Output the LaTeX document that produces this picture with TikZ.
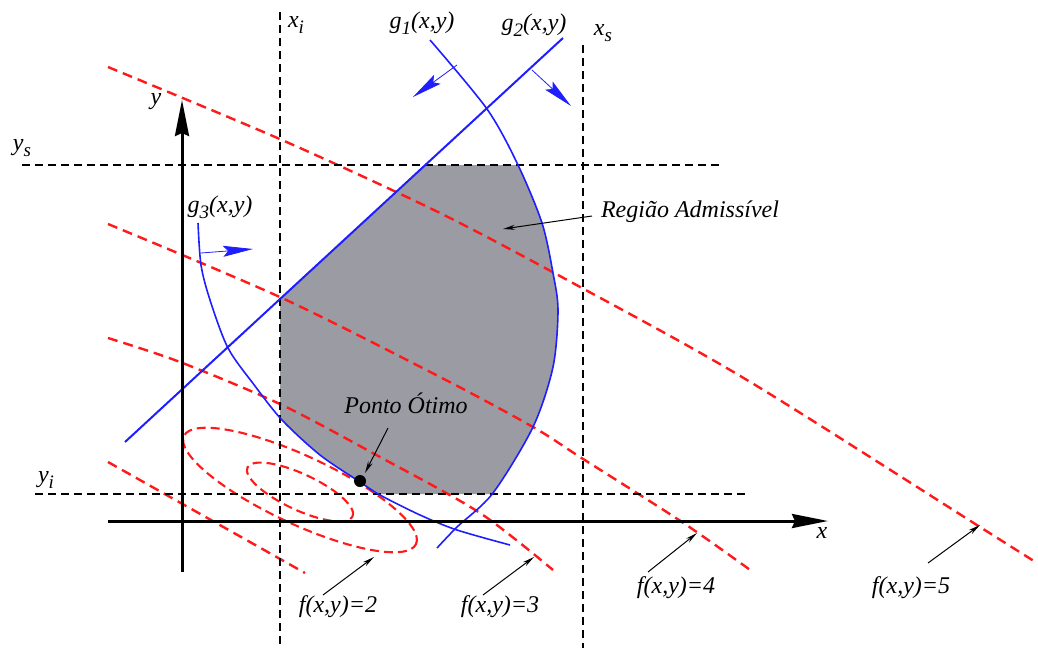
\documentclass[tikz,border=0pt]{standalone}
\usepackage{fontspec}
\setmainfont{Liberation Serif}
\usetikzlibrary{arrows.meta}
\definecolor{regfill}{RGB}{155,155,163}
\definecolor{bl}{RGB}{30,30,255}
\definecolor{rd}{RGB}{255,25,25}
\newcommand\mysub[1]{\raisebox{-0.28em}{\fontsize{19}{19}\selectfont\itshape #1}}
\begin{document}
\begin{tikzpicture}[x=1pt,y=-1pt,
  lbl/.style={font=\fontsize{24}{28}\selectfont\itshape, inner sep=0pt, anchor=base},
  guide/.style={black, line width=2pt, dash pattern=on 8pt off 5pt},
  contour/.style={rd, line width=2.4pt, dash pattern=on 10pt off 6pt},
  ellc/.style={rd, line width=2.1pt, dash pattern=on 9pt off 5pt},
  cons/.style={bl, line width=1.6pt},
  consdir/.style={bl, line width=0.8pt, -{Stealth[length=30pt,width=11pt,inset=5pt]}},
  axis/.style={black, line width=3pt, -{Stealth[length=36pt,width=14pt,inset=3pt]}},
  pointer/.style={black, line width=1pt, -{Stealth[length=12pt,width=5pt]}}]
\useasboundingbox (0,0) rectangle (1038,648);

% feasible region
\begin{scope}
  \clip (400,0) -- plot[smooth] coordinates {(430,40) (487,109) (518,165) (542,223) (553,273) (558,310) (553,367) (533,427) (493,493) (457,527) (437,548)} -- (400,700) -- (0,700) -- (0,0) -- cycle;
  \clip (198,0) -- plot[smooth] coordinates {(198,223) (201,265) (210,300) (228,348) (255,386) (282,420) (320,455) (360,482) (380,495) (420,515) (457,530) (510,545)} -- (1038,545) -- (1038,0) -- cycle;
  \fill[regfill] (280,299) -- (425.3,165) -- (600,165) -- (600,494) -- (280,494) -- cycle;
\end{scope}

% objective contours
\draw[contour] plot[smooth] coordinates {(108,67) (282,140) (440,213) (582,288) (747,380) (980,527) (1037,563)};
\draw[contour] plot[smooth] coordinates {(108,224) (282,298) (440,377) (533,427) (580,457) (682,522) (753,572)};
\draw[contour] plot[smooth] coordinates {(108,338) (180,362) (282,405) (380,457) (480,513) (553,570)};
\draw[contour] (108,462) -- (305,573);
\draw[ellc, rotate around={-25:(300,490)}] (300,490) ellipse [x radius=128pt, y radius=34pt];
\draw[ellc, rotate around={-25:(300,492)}] (300,492) ellipse [x radius=58pt, y radius=18pt];

% bounds
\draw[guide] (280,12) -- (280,648);
\draw[guide] (583,45) -- (583,648);
\draw[guide] (22,165) -- (722,165);
\draw[guide] (35,494) -- (748,494);

% constraints
\coordinate (g2s) at (125,442);
\coordinate (g2e) at (563,38);
\draw[cons, line width=2pt] (g2s) -- (g2e);
\draw[cons] plot[smooth] coordinates {(430,40) (487,109) (518,165) (542,223) (553,273) (558,310) (553,367) (533,427) (493,493) (457,527) (437,548)};
\draw[cons] plot[smooth] coordinates {(198,223) (201,265) (210,300) (228,348) (255,386) (282,420) (320,455) (360,482) (380,495) (420,515) (457,530) (510,545)};

\coordinate (d1a) at (457,65);  \coordinate (d1b) at (413,97);
\coordinate (d2a) at (532,70);  \coordinate (d2b) at (571,106);
\coordinate (d3a) at (201,253); \coordinate (d3b) at (253,249);
\draw[consdir] (d1a) -- (d1b);
\draw[consdir] (d2a) -- (d2b);
\draw[consdir] (d3a) -- (d3b);

% axes
\coordinate (xo) at (108,521); \coordinate (xe) at (828,521);
\coordinate (yo) at (182,572); \coordinate (ye) at (182,100);
\draw[axis] (xo) -- (xe);
\draw[axis] (yo) -- (ye);

% optimum
\node[circle, fill=black, inner sep=0pt, minimum size=12pt] (opt) at (360,481) {};

% labels
\node[lbl] (lx) at (822,538) {x};
\node[lbl] (ly) at (156,104) {y};
\node[lbl] (lxi) at (296,27) {x\mysub{i}};
\node[lbl] (lxs) at (603,35) {x\mysub{s}};
\node[lbl] (lys) at (22,150) {y\mysub{s}};
\node[lbl] (lyi) at (46,482) {y\mysub{i}};
\node[lbl] (lg1) at (422,28) {g\mysub{1}(x,y)};
\node[lbl] (lg2) at (534,30) {g\mysub{2}(x,y)};
\node[lbl] (lg3) at (220,212) {g\mysub{3}(x,y)};
\node[lbl] (lreg) at (690,217) {Região Admissível};
\node[lbl] (lpo) at (406,413) {Ponto Ótimo};
\node[lbl] (lf2) at (338,612) {f(x,y)=2};
\node[lbl] (lf3) at (500,612) {f(x,y)=3};
\node[lbl] (lf4) at (676,593) {f(x,y)=4};
\node[lbl] (lf5) at (911,593) {f(x,y)=5};

% pointers
\coordinate (pr) at (592,216); \coordinate (pre) at (503,229);
\coordinate (pp) at (388,428); \coordinate (ppe) at (365,473);
\coordinate (p2) at (323,595); \coordinate (p2e) at (374,557);
\coordinate (p3) at (483,595); \coordinate (p3e) at (534,557);
\coordinate (p4) at (648,572); \coordinate (p4e) at (697,533);
\coordinate (p5) at (928,563); \coordinate (p5e) at (980,525);
\draw[pointer] (pr) -- (pre);
\draw[pointer] (pp) -- (ppe);
\draw[pointer] (p2) -- (p2e);
\draw[pointer] (p3) -- (p3e);
\draw[pointer] (p4) -- (p4e);
\draw[pointer] (p5) -- (p5e);
\end{tikzpicture}
\end{document}
